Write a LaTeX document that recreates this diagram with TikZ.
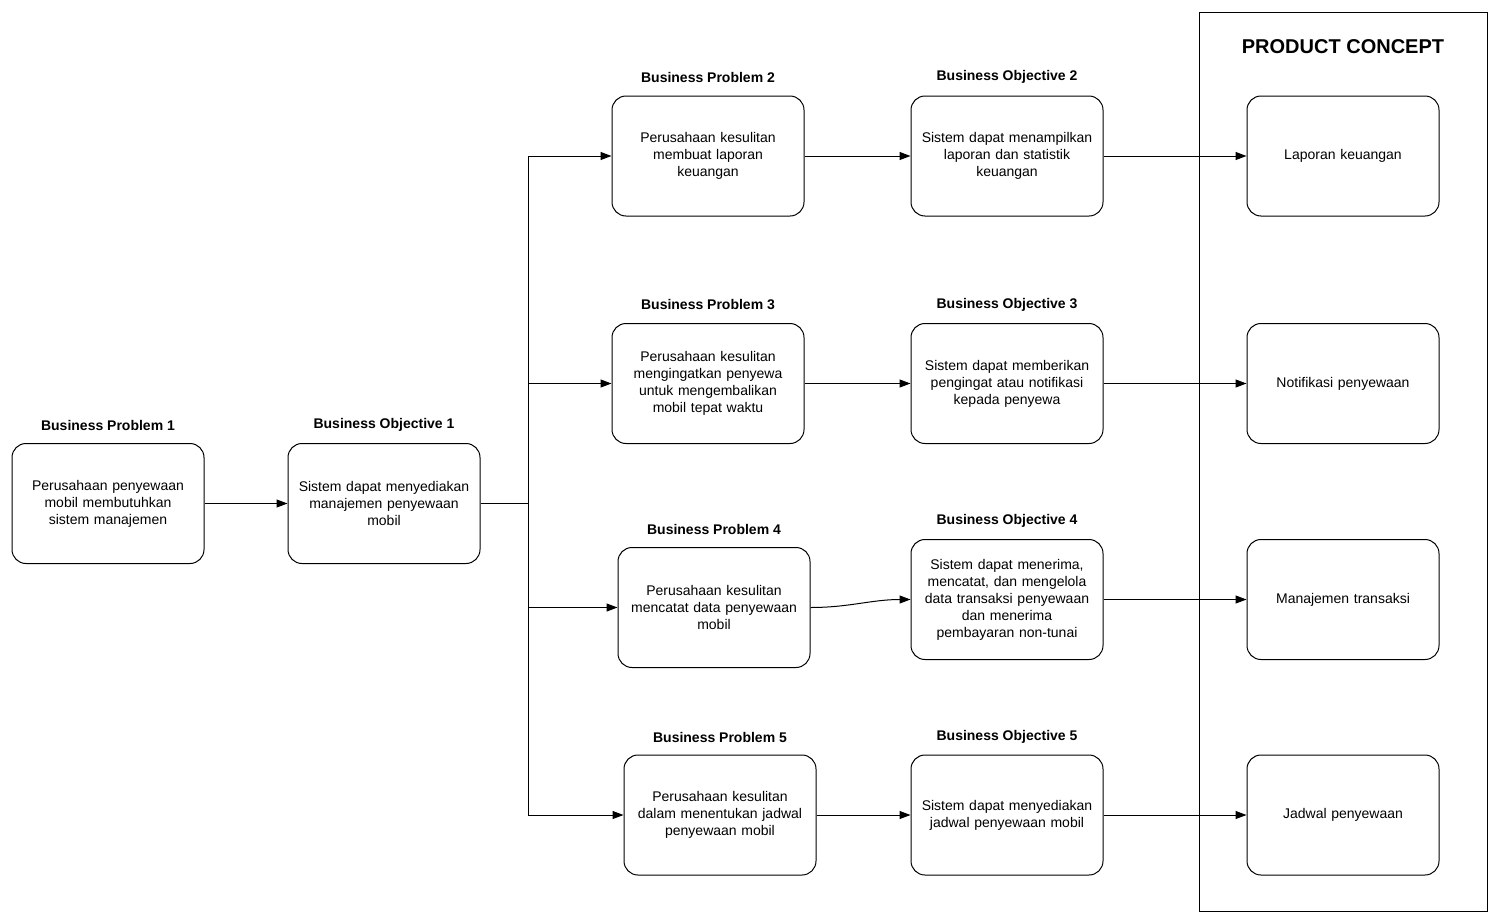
\documentclass[tikz,border=0pt]{standalone}
\usepackage{fontspec}
\setmainfont{Liberation Sans}
\usetikzlibrary{arrows.meta}
\begin{document}
\begin{tikzpicture}[x=1pt,y=-1pt,
 box/.style={draw,line width=1pt,rounded corners=14pt,minimum width=192pt,minimum height=120pt,align=center,text width=180pt,font=\fontsize{14}{17}\selectfont,inner sep=0pt},
 lab/.style={font=\fontsize{14}{17}\selectfont\bfseries},
 arr/.style={-{Triangle[length=11pt,width=8pt]},line width=1pt}]
\useasboundingbox (0,0) rectangle (1500,924);
\node[draw,line width=1pt,minimum width=288pt,minimum height=899pt,inner sep=0pt] (pc) at (1343,461.5) {};
\node[font=\fontsize{20}{24}\selectfont\bfseries] (pct) at (1343,47) {PRODUCT CONCEPT};
\node[box] (bp1) at (108,503.5) {Perusahaan penyewaan\\mobil membutuhkan\\sistem manajemen};
\node[box] (bo1) at (384,503.5) {Sistem dapat menyediakan\\manajemen penyewaan\\mobil};
\node[box] (bp2) at (708,156) {Perusahaan kesulitan\\membuat laporan\\keuangan};
\node[box] (bo2) at (1007,156) {Sistem dapat menampilkan\\laporan dan statistik\\keuangan};
\node[box] (pc2) at (1343,156) {Laporan keuangan};
\node[box] (bp3) at (708,383.5) {Perusahaan kesulitan\\mengingatkan penyewa\\untuk mengembalikan\\mobil tepat waktu};
\node[box] (bo3) at (1007,383.5) {Sistem dapat memberikan\\pengingat atau notifikasi\\kepada penyewa};
\node[box] (pc3) at (1343,383.5) {Notifikasi penyewaan};
\node[box] (bp4) at (714,607.5) {Perusahaan kesulitan\\mencatat data penyewaan\\mobil};
\node[box] (bo4) at (1007,599.5) {Sistem dapat menerima,\\mencatat, dan mengelola\\data transaksi penyewaan\\dan menerima\\pembayaran non-tunai};
\node[box] (pc4) at (1343,599.5) {Manajemen transaksi};
\node[box] (bp5) at (720,815) {Perusahaan kesulitan\\dalam menentukan jadwal\\penyewaan mobil};
\node[box] (bo5) at (1007,815) {Sistem dapat menyediakan\\jadwal penyewaan mobil};
\node[box] (pc5) at (1343,815) {Jadwal penyewaan};
\node[lab] (l1) at (108,425) {Business Problem 1};
\node[lab] (l2) at (384,425) {Business Objective 1};
\node[lab] (l3) at (708,77) {Business Problem 2};
\node[lab] (l4) at (1007,77) {Business Objective 2};
\node[lab] (l5) at (708,305) {Business Problem 3};
\node[lab] (l6) at (1007,305) {Business Objective 3};
\node[lab] (l7) at (714,529) {Business Problem 4};
\node[lab] (l8) at (1007,521) {Business Objective 4};
\node[lab] (l9) at (720,737) {Business Problem 5};
\node[lab] (l10) at (1007,737) {Business Objective 5};
\coordinate (j) at (528,503.5);
\draw[arr] (bp1) -- (bo1);
\draw[line width=1pt] (bo1.east) -- (j);
\draw[arr] (j) |- (bp2.west);
\draw[arr] (j) |- (bp3.west);
\draw[arr] (j) |- (bp4.west);
\draw[arr] (j) |- (bp5.west);
\draw[arr] (bp2) -- (bo2);
\draw[arr] (bp3) -- (bo3);
\draw[arr] (bp4.east) to[out=0,in=180] (bo4.west);
\draw[arr] (bp5) -- (bo5);
\draw[arr] (bo2) -- (pc2);
\draw[arr] (bo3) -- (pc3);
\draw[arr] (bo4) -- (pc4);
\draw[arr] (bo5) -- (pc5);
\end{tikzpicture}
\end{document}
